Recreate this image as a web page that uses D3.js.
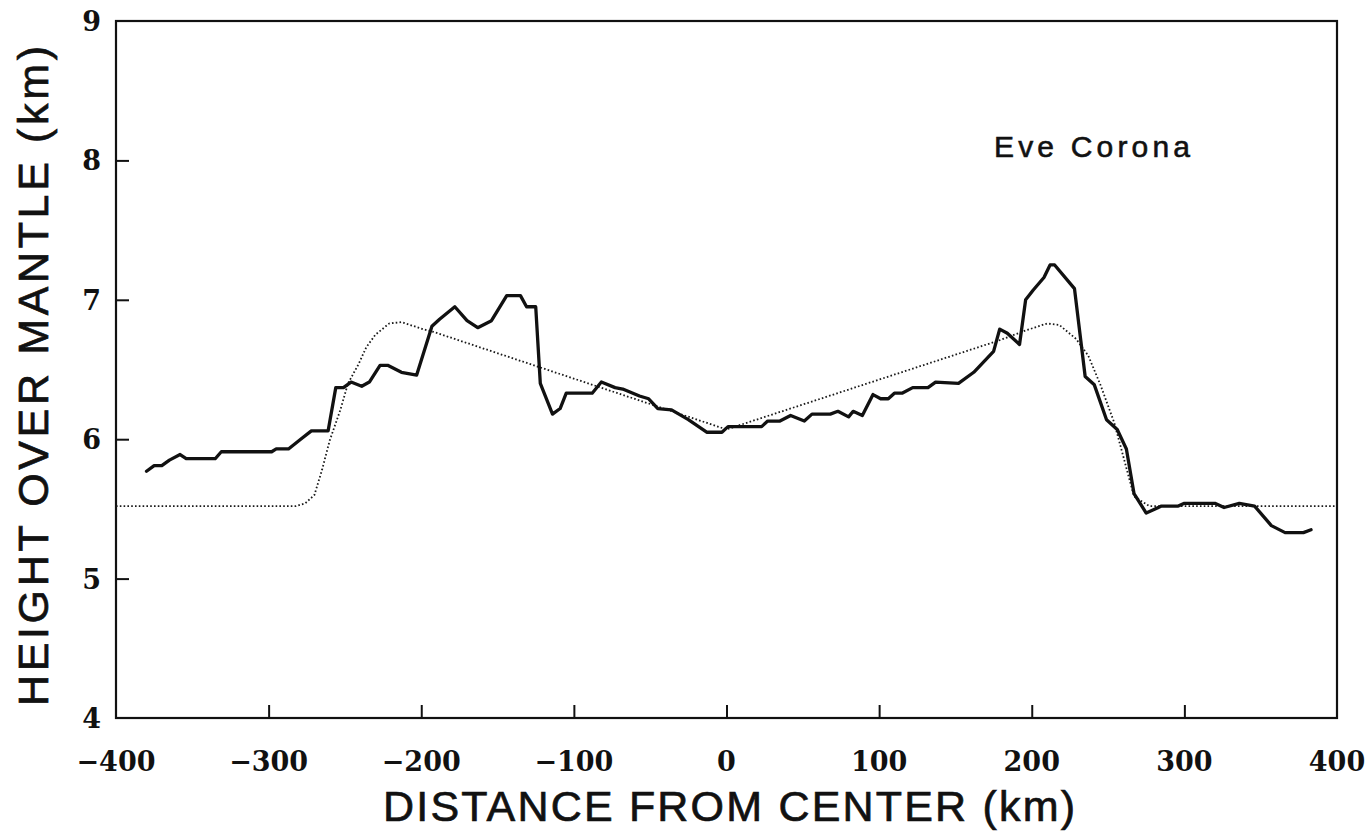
<!DOCTYPE html>
<html>
<head>
<meta charset="utf-8">
<script src="https://cdn.jsdelivr.net/npm/d3@7"></script>
<style>
  body { margin: 0; background: #fff; }
  svg { display: block; }
</style>
</head>
<body>
<script>
// Observed topography profile (solid line)
const profileX = [-380, -375, -370, -365, -358, -354, -335, -331, -298, -295, -287, -279, -272, -261,
  -256, -251, -246, -239, -234, -227, -222, -213, -203, -193, -188, -178, -170, -163, -154, -144,
  -135, -131, -125, -122, -114, -109, -105, -88, -82, -73, -68, -57, -51, -45, -36, -25, -13, -3,
  1, 23, 27, 35, 42, 51, 56, 68, 73, 80, 83, 89, 96, 101, 106, 110, 115, 122, 132, 137, 152, 162,
  175, 179, 184, 192, 196, 201, 208, 212, 215, 228, 235, 241, 249, 256, 262, 267, 275, 285, 296,
  300, 320, 326, 336, 346, 357, 366, 378, 383];
const profileH = [5.77, 5.81, 5.81, 5.85, 5.89, 5.86, 5.86, 5.91, 5.91, 5.93, 5.93, 6.0, 6.06, 6.06,
  6.37, 6.37, 6.41, 6.38, 6.41, 6.53, 6.53, 6.48, 6.46, 6.81, 6.86, 6.95, 6.85, 6.8, 6.85, 7.03,
  7.03, 6.95, 6.95, 6.4, 6.18, 6.22, 6.33, 6.33, 6.41, 6.37, 6.36, 6.31, 6.29, 6.22, 6.21, 6.14, 6.05, 6.05,
  6.09, 6.09, 6.13, 6.13, 6.17, 6.13, 6.18, 6.18, 6.2, 6.16, 6.2, 6.17, 6.32, 6.29, 6.29, 6.33, 6.33, 6.37, 6.37, 6.41, 6.4, 6.48,
  6.63, 6.79, 6.76, 6.68, 7.0, 7.07, 7.16, 7.25, 7.25, 7.08, 6.45, 6.39, 6.14, 6.07, 5.93, 5.61, 5.47, 5.52, 5.52,
  5.54, 5.54, 5.51, 5.54, 5.52, 5.38, 5.33, 5.33, 5.35];

// Model profile (dotted line)
const modelX = [-400, -282, -276, -270, -265, -260, -253, -248, -241, -236, -230, -221, -213, -199, -192,
  0, 179, 196, 210, 218, 229, 237, 245, 254, 267, 277, 400];
const modelH = [5.52, 5.52, 5.54, 5.6, 5.78, 5.99, 6.21, 6.4, 6.54, 6.66, 6.75, 6.83, 6.84, 6.79, 6.77,
  6.07, 6.71, 6.78, 6.83, 6.82, 6.72, 6.6, 6.39, 6.12, 5.59, 5.52, 5.52];

const xTicks = [-400, -300, -200, -100, 0, 100, 200, 300, 400];
const yTicks = [4, 5, 6, 7, 8, 9];

const width = 1369;
const height = 832;
const margin = { top: 21, right: 32, bottom: 114, left: 116 };

const svg = d3.select("body").append("svg")
  .attr("width", width)
  .attr("height", height);

const x = d3.scaleLinear().domain([-400, 400]).range([margin.left, width - margin.right]);
const y = d3.scaleLinear().domain([4, 9]).range([height - margin.bottom, margin.top]);

// frame
svg.append("rect")
  .attr("x", x(-400))
  .attr("y", y(9))
  .attr("width", x(400) - x(-400))
  .attr("height", y(4) - y(9))
  .attr("fill", "none")
  .attr("stroke", "#111")
  .attr("stroke-width", 2.2);

// inner ticks on bottom and left
const xAxis = d3.axisTop(x).tickValues(xTicks.slice(1, -1)).tickSize(13).tickFormat("");
svg.append("g")
  .attr("transform", `translate(0,${y(4)})`)
  .call(xAxis)
  .call(g => g.select(".domain").remove())
  .call(g => g.selectAll("line").attr("stroke", "#111").attr("stroke-width", 2));

const yAxis = d3.axisRight(y).tickValues(yTicks.slice(1, -1)).tickSize(13).tickFormat("");
svg.append("g")
  .attr("transform", `translate(${x(-400)},0)`)
  .call(yAxis)
  .call(g => g.select(".domain").remove())
  .call(g => g.selectAll("line").attr("stroke", "#111").attr("stroke-width", 2));

// tick labels
const tickFont = "'DejaVu Serif', serif";
svg.append("g").selectAll("text")
  .data(xTicks)
  .enter().append("text")
  .attr("x", d => x(d))
  .attr("y", 771)
  .attr("text-anchor", "middle")
  .attr("font-family", tickFont)
  .attr("font-size", 27)
  .attr("font-weight", "bold")
  .attr("fill", "#111")
  .text(d => (d < 0 ? "\u2212" + Math.abs(d) : d));

svg.append("g").selectAll("text")
  .data(yTicks)
  .enter().append("text")
  .attr("x", 101)
  .attr("y", d => y(d) + 10)
  .attr("text-anchor", "end")
  .attr("font-family", tickFont)
  .attr("font-size", 27)
  .attr("font-weight", "bold")
  .attr("fill", "#111")
  .text(d => d);

// axis titles
const titleFont = "'Liberation Sans', Arial, sans-serif";
svg.append("text")
  .attr("x", 383)
  .attr("y", 821)
  .attr("textLength", 692)
  .attr("lengthAdjust", "spacing")
  .attr("font-family", titleFont)
  .attr("font-size", 43)
  .attr("fill", "#111")
  .attr("stroke", "#111")
  .attr("stroke-width", 0.7)
  .text("DISTANCE FROM CENTER (km)");

svg.append("text")
  .attr("transform", "translate(48,706) rotate(-90)")
  .attr("textLength", 660)
  .attr("lengthAdjust", "spacing")
  .attr("font-family", titleFont)
  .attr("font-size", 43)
  .attr("fill", "#111")
  .attr("stroke", "#111")
  .attr("stroke-width", 0.7)
  .text("HEIGHT OVER MANTLE (km)");

svg.append("text")
  .attr("x", 994)
  .attr("y", 157)
  .attr("textLength", 196)
  .attr("lengthAdjust", "spacing")
  .attr("font-family", titleFont)
  .attr("font-size", 30)
  .attr("fill", "#111")
  .attr("stroke", "#111")
  .attr("stroke-width", 0.6)
  .text("Eve Corona");

// lines
const line = d3.line()
  .x(d => x(d[0]))
  .y(d => y(d[1]));

svg.append("path")
  .datum(d3.zip(modelX, modelH))
  .attr("d", line)
  .attr("fill", "none")
  .attr("stroke", "#1a1a1a")
  .attr("stroke-width", 1.8)
  .attr("stroke-dasharray", "1.6 2.2");

svg.append("path")
  .datum(d3.zip(profileX, profileH))
  .attr("d", line)
  .attr("fill", "none")
  .attr("stroke", "#111")
  .attr("stroke-width", 3.3)
  .attr("stroke-linejoin", "round")
  .attr("stroke-linecap", "round");
</script>
</body>
</html>
